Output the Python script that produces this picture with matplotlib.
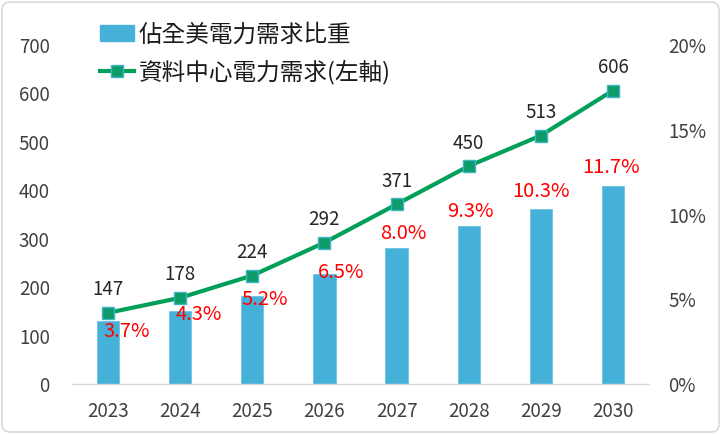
import matplotlib
matplotlib.use('Agg')
import matplotlib.pyplot as plt
from matplotlib.patches import FancyBboxPatch, Patch
from matplotlib.lines import Line2D
import numpy as np

years = ['2023', '2024', '2025', '2026', '2027', '2028', '2029', '2030']
demand = [147, 178, 224, 292, 371, 450, 513, 606]
share = [3.7, 4.3, 5.2, 6.5, 8.0, 9.3, 10.3, 11.7]
share_labels = ['3.7%', '4.3%', '5.2%', '6.5%', '8.0%', '9.3%', '10.3%', '11.7%']
left_ticks = [0, 100, 200, 300, 400, 500, 600, 700]
right_ticks = [0, 5, 10, 15, 20]
right_tick_labels = ['0%', '5%', '10%', '15%', '20%']
legend_bar = '佔全美電力需求比重'
legend_line = '資料中心電力需求(左軸)'

plt.rcParams['font.family'] = ['Noto Sans CJK TC', 'DejaVu Sans']

W, H = 721, 434
fig = plt.figure(figsize=(W / 100, H / 100), dpi=100)
ax = fig.add_axes([72 / W, 1 - 384 / H, (649 - 72) / W, (384 - 45) / H])
ax2 = ax.twinx()

x = np.arange(len(years))
bar_color = '#45b1d9'
line_color = '#00a05a'
ax2.bar(x, share, width=0.31, color=bar_color, edgecolor='#6cc3e3', linewidth=0.6)
ax2.set_ylim(0, 20)
ax.plot(x, demand, color=line_color, lw=3, marker='s', ms=8,
        mfc='#0e9b6a', mec='#3fb5c4', mew=1, zorder=3)
ax.set_ylim(0, 700)
ax.set_xlim(-0.5, len(years) - 0.5)
ax.set_zorder(ax2.get_zorder() + 1)
ax.patch.set_visible(False)

tick_color = '#404040'
ax.set_xticks(x)
ax.set_xticklabels(years)
ax.set_yticks(left_ticks)
ax2.set_yticks(right_ticks)
ax2.set_yticklabels(right_tick_labels)
ax.tick_params(axis='x', length=0, pad=12, labelsize=13.5, labelcolor=tick_color)
ax.tick_params(axis='y', length=0, pad=16, labelsize=13.5, labelcolor=tick_color)
ax2.tick_params(axis='y', length=0, pad=14, labelsize=13.5, labelcolor=tick_color)
for s in ['top', 'left', 'right']:
    ax.spines[s].set_visible(False)
ax.spines['bottom'].set_color('#d9d9d9')
ax.spines['bottom'].set_linewidth(1)
for s in ax2.spines.values():
    s.set_visible(False)

# line value labels
for i, v in enumerate(demand):
    ax.annotate(str(v), (i, v), xytext=(0, 23), textcoords='offset pixels',
                ha='center', va='center', fontsize=13.5, color='#262626', zorder=4)

# percent labels
pct_offsets = [(19, -10), (19, -3), (12, -4), (17, 1), (7, 15), (2, 15), (0, 18), (-2, 18)]
for i, (v, lab) in enumerate(zip(share, share_labels)):
    ax2.annotate(lab, (i, v), xytext=pct_offsets[i], textcoords='offset pixels',
                 ha='center', va='center', fontsize=14.5, color='#ff0000')

handles = [Patch(facecolor=bar_color, edgecolor=bar_color),
           Line2D([0], [0], color=line_color, lw=3, marker='s', ms=8,
                  mfc='#0e9b6a', mec='#3fb5c4')]
fig.legend(handles, [legend_bar, legend_line], loc='upper left',
           bbox_to_anchor=(79 / W, 1 - 2 / H), frameon=False, fontsize=17,
           handlelength=1.45, handletextpad=0.17, labelspacing=0.56,
           labelcolor='#1a1a1a')

border = FancyBboxPatch((0.02, 0.02), W / 100 - 0.04, H / 100 - 0.04,
                        boxstyle='round,pad=0,rounding_size=0.08',
                        transform=fig.dpi_scale_trans, fill=False,
                        edgecolor='#d9d9d9', linewidth=1.2)
fig.patches.append(border)

fig.savefig('out.png', dpi=100)
